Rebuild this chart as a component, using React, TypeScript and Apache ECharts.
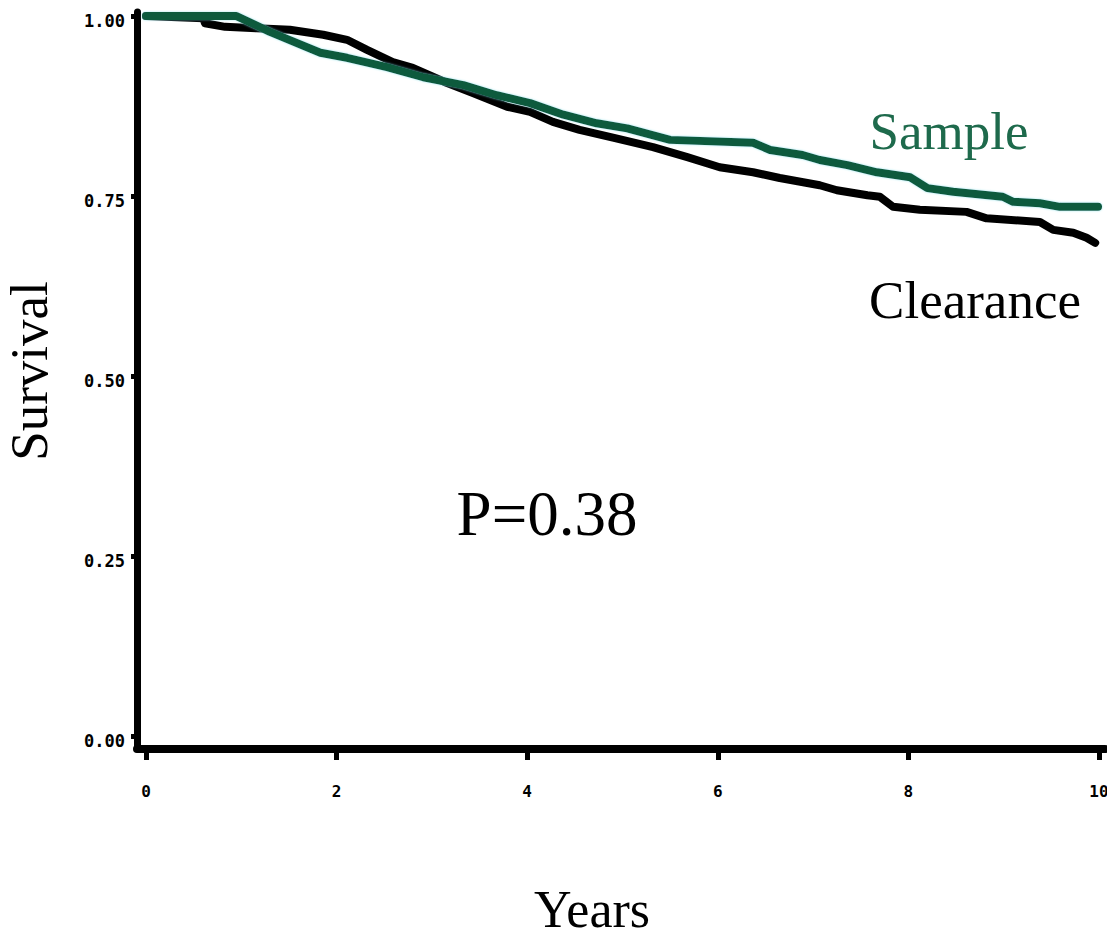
import React, { useEffect, useRef } from "react";
import * as echarts from "echarts";

// Kaplan–Meier curves
const sampleYears = [0, 0.95, 1.3, 1.83, 2.11, 2.53, 2.91, 3.33, 3.68, 4.03, 4.38, 4.73, 5.05, 5.5, 6.37, 6.55, 6.89, 7.07, 7.36, 7.67, 8.02, 8.2, 8.47, 8.99, 9.1, 9.38, 9.59, 9.99];
const sampleSurv = [1.0, 1.0, 0.978, 0.949, 0.942, 0.929, 0.915, 0.904, 0.89, 0.879, 0.863, 0.851, 0.844, 0.828, 0.824, 0.814, 0.807, 0.8, 0.793, 0.783, 0.776, 0.761, 0.756, 0.749, 0.742, 0.74, 0.735, 0.735];

const clearanceYears = [0, 0.6, 0.62, 0.83, 1.16, 1.51, 1.86, 2.11, 2.32, 2.59, 2.8, 3.16, 3.43, 3.79, 4.03, 4.27, 4.55, 4.9, 5.32, 5.68, 6.02, 6.37, 6.65, 7.07, 7.25, 7.57, 7.7, 7.84, 8.12, 8.61, 8.82, 9.38, 9.52, 9.73, 9.87, 9.96];
const clearanceSurv = [1.0, 0.997, 0.99, 0.985, 0.983, 0.981, 0.974, 0.967, 0.953, 0.936, 0.928, 0.907, 0.893, 0.874, 0.867, 0.853, 0.842, 0.831, 0.818, 0.804, 0.79, 0.783, 0.775, 0.765, 0.758, 0.751, 0.749, 0.735, 0.731, 0.728, 0.719, 0.714, 0.703, 0.699, 0.692, 0.685];

const xTicks = [0, 2, 4, 6, 8, 10];
const yTicks = [0, 0.25, 0.5, 0.75, 1.0];

const xTitle = "Years";
const yTitle = "Survival";
const pText = "P=0.38";
const sampleName = "Sample";
const clearanceName = "Clearance";

const GREEN = "#0f5a3d";
const SERIF = "'Liberation Serif', 'Times New Roman', serif";
const MONO = "'DejaVu Sans Mono', monospace";

export default function App() {
  const ref = useRef<HTMLDivElement>(null);
  useEffect(() => {
    if (!ref.current) return;
    const chart = echarts.init(ref.current, undefined, { renderer: "svg" });
    const toPairs = (xs: number[], ys: number[]) => xs.map((x, i) => [x, ys[i]]);
    chart.setOption({
      animation: false,
      backgroundColor: "#ffffff",
      grid: { left: 137, right: 10, top: 12, bottom: 191 },
      xAxis: {
        type: "value",
        min: -0.094,
        max: 10.063,
        splitLine: { show: false },
        axisLine: { onZero: false, lineStyle: { color: "#000", width: 8 } },
        axisTick: { customValues: xTicks, length: 11, lineStyle: { color: "#000", width: 5 } },
        axisLabel: {
          customValues: xTicks,
          margin: 34,
          color: "#000",
          fontFamily: MONO,
          fontWeight: "bold",
          fontSize: 16,
          align: "center",
          alignMaxLabel: "center",
          alignMinLabel: "center",
          formatter: (v: number) => String(v),
        },
      },
      yAxis: {
        type: "value",
        min: -0.018,
        max: 1.0056,
        splitLine: { show: false },
        axisLine: { onZero: false, lineStyle: { color: "#000", width: 7 } },
        axisTick: { customValues: yTicks, length: 6, lineStyle: { color: "#000", width: 5 } },
        axisLabel: {
          customValues: yTicks,
          margin: 12,
          color: "#000",
          fontFamily: MONO,
          fontWeight: "bold",
          fontSize: 17,
          verticalAlign: "top",
          lineHeight: 10,
          formatter: (v: number) => v.toFixed(2),
        },
      },
      series: [
        {
          name: clearanceName,
          type: "line",
          data: toPairs(clearanceYears, clearanceSurv),
          showSymbol: false,
          lineStyle: { color: "#000", width: 8, cap: "round", join: "round" },
          z: 2,
        },
        {
          name: sampleName,
          type: "line",
          data: toPairs(sampleYears, sampleSurv),
          showSymbol: false,
          lineStyle: { color: GREEN, width: 8, cap: "round", join: "round", shadowColor: "rgba(120,220,230,0.7)", shadowBlur: 2 },
          z: 3,
        },
      ],
      graphic: [
        { type: "text", x: 949, y: 131, style: { text: sampleName, fill: "#1e6a4c", font: `53px ${SERIF}`, textAlign: "center", textVerticalAlign: "middle" } },
        { type: "text", x: 975, y: 300, style: { text: clearanceName, fill: "#000", font: `53px ${SERIF}`, textAlign: "center", textVerticalAlign: "middle" } },
        { type: "text", x: 547, y: 514, style: { text: pText, fill: "#000", font: `63px ${SERIF}`, textAlign: "center", textVerticalAlign: "middle" } },
        { type: "text", x: 592, y: 909, style: { text: xTitle, fill: "#000", font: `52px ${SERIF}`, textAlign: "center", textVerticalAlign: "middle" } },
        { type: "text", x: 29, y: 371, rotation: Math.PI / 2, style: { text: yTitle, fill: "#000", font: `53px ${SERIF}`, textAlign: "center", textVerticalAlign: "middle" } },
      ],
    });
    return () => chart.dispose();
  }, []);
  return <div ref={ref} style={{ width: 1115, height: 940, margin: -8 }} />;
}
